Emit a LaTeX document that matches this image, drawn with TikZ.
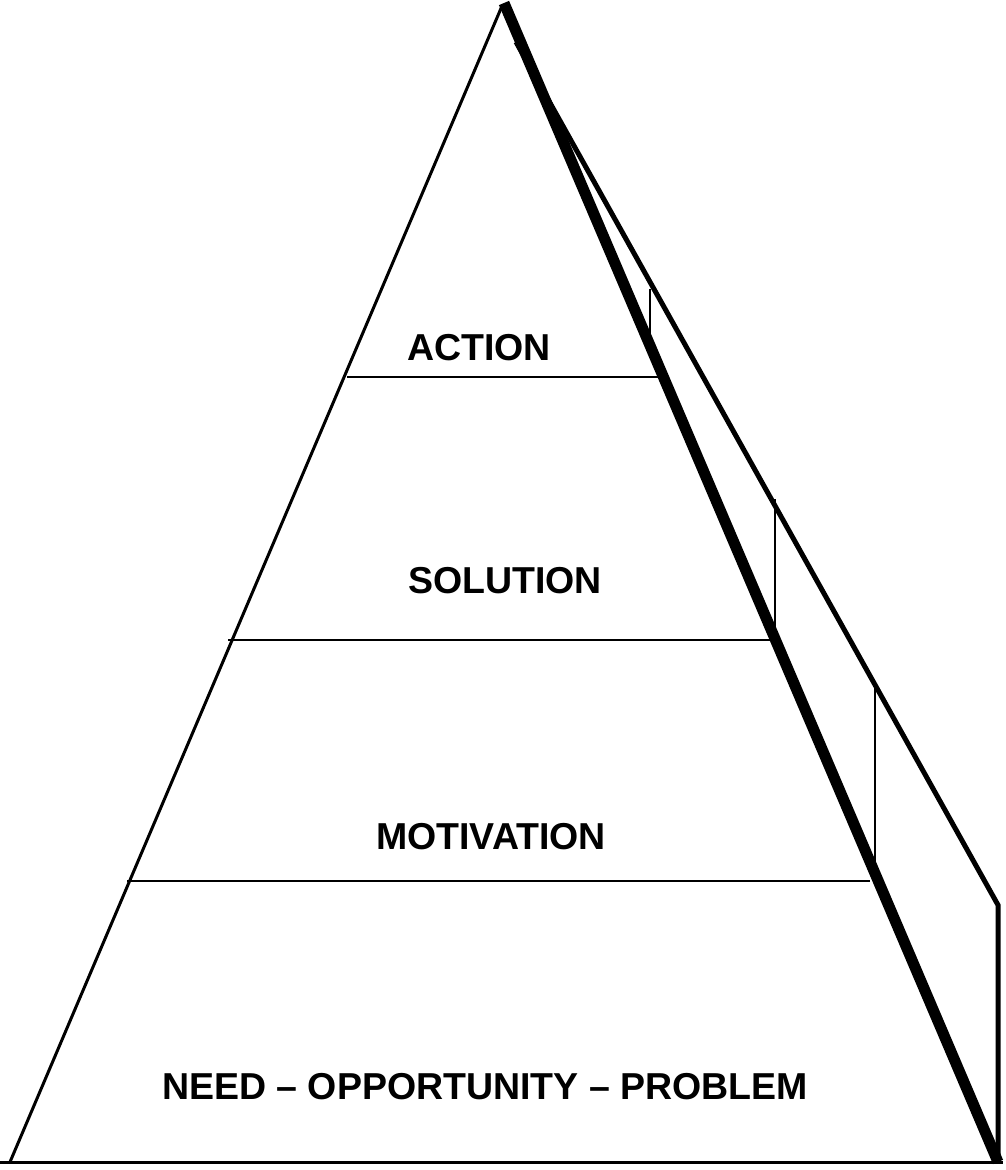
\documentclass[tikz,border=0pt]{standalone}
\usepackage{fontspec}
\setmainfont{Liberation Sans}
\usetikzlibrary{calc}
\begin{document}
\begin{tikzpicture}[x=1pt,y=-1pt,
  thinline/.style={line width=2.3pt},
  edgeline/.style={line width=3pt},
  outerline/.style={line width=5pt, line join=miter},
  heavyline/.style={line width=11pt},
  label/.style={font=\fontsize{37.5}{40}\selectfont\bfseries, inner sep=0pt, anchor=base}]
\useasboundingbox (0,0) rectangle (1005,1170);
% key points
\coordinate (apexL) at (502,6);
\coordinate (apex) at (504,3);
\coordinate (baseL) at (10,1162);
\coordinate (baseR) at (998,1162);
\coordinate (outTop) at (516,42);
\coordinate (outEnd) at (998,905);
% bottom line
\draw[edgeline] (0,1162) -- (1003,1162);
% left edge
\draw[edgeline] (apexL) -- (baseL);
% layer lines
\draw[thinline] (347,377) -- (660,377);
\draw[thinline] (228,640) -- (772,640);
\draw[thinline] (127,881) -- (870,881);
% verticals between outer line and heavy line
\draw[thinline] (650,289) -- (650,335);
\draw[thinline] (775,499) -- (775,632);
\draw[thinline] (875,686) -- (875,865);
% outer line and last vertical
\draw[outerline] (outTop) -- (outEnd) -- (baseR);
% heavy line
\draw[heavyline] (apex) -- (baseR);
% labels
\node[label] (action) at (479,360) {ACTION};
\node[label] (solution) at (505,593) {SOLUTION};
\node[label] (motivation) at (491,849) {MOTIVATION};
\node[label] (need) at (485,1099) {NEED – OPPORTUNITY – PROBLEM};
\end{tikzpicture}
\end{document}
